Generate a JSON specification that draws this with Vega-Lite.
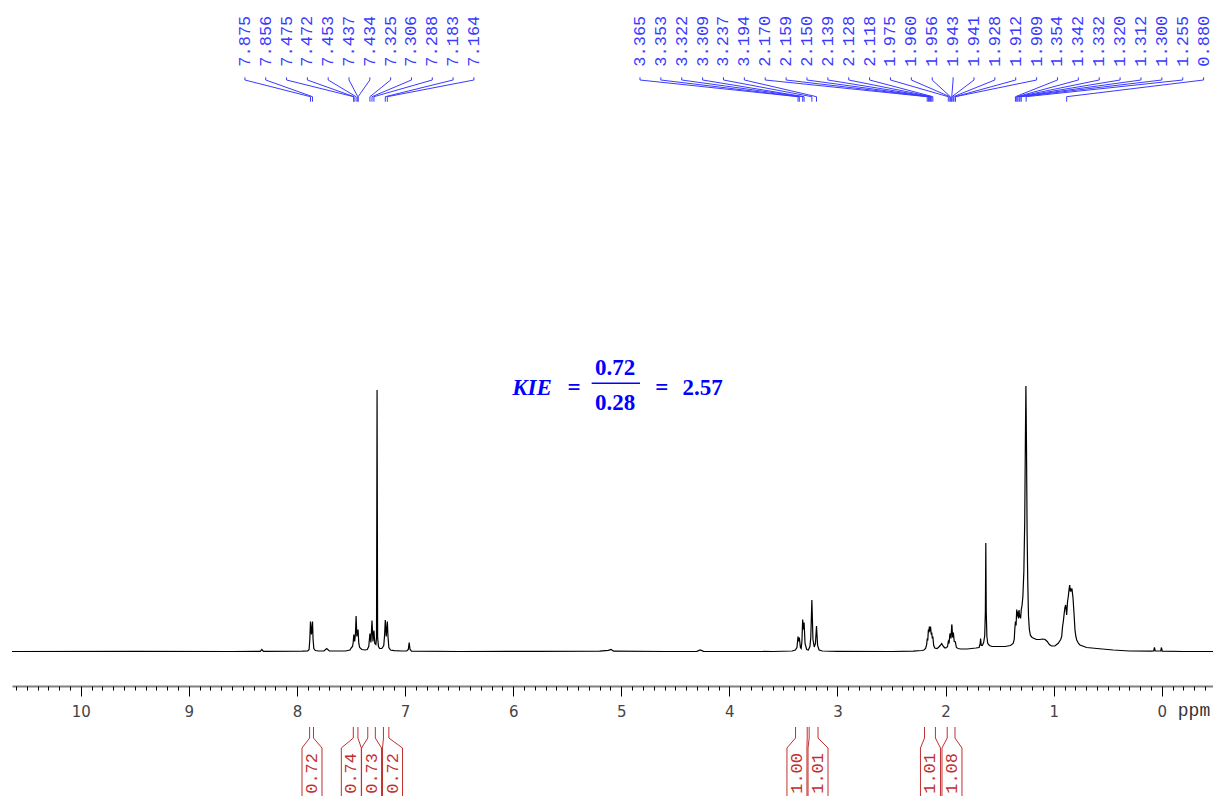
{
  "$schema": "https://vega.github.io/schema/vega-lite/v6.json",
  "width": 1201,
  "height": 686,
  "autosize": {"type": "none"},
  "padding": {"left": 12, "top": 0, "right": 0, "bottom": 110},
  "background": "white",
  "config": {"view": {"stroke": null}},
  "resolve": {"axis": {"x": "independent"}},
  "layer": [
    {
      "data": {"values": [
        {"ppm": 10.636, "i": 0}, {"ppm": 9.5, "i": 0.2}, {"ppm": 8.6, "i": 0}, {"ppm": 8.34, "i": 0.2}, {"ppm": 8.325, "i": 2}, {"ppm": 8.31, "i": 0.2},
        {"ppm": 7.95, "i": 0.3}, {"ppm": 7.9, "i": 0.5}, {"ppm": 7.888, "i": 2}, {"ppm": 7.881, "i": 12}, {"ppm": 7.875, "i": 30}, {"ppm": 7.866, "i": 17}, {"ppm": 7.856, "i": 30}, {"ppm": 7.851, "i": 12}, {"ppm": 7.844, "i": 3}, {"ppm": 7.83, "i": 1}, {"ppm": 7.8, "i": 0.5},
        {"ppm": 7.75, "i": 0.5}, {"ppm": 7.725, "i": 3}, {"ppm": 7.7, "i": 0.5},
        {"ppm": 7.55, "i": 0.5}, {"ppm": 7.51, "i": 1.5}, {"ppm": 7.495, "i": 4}, {"ppm": 7.486, "i": 5}, {"ppm": 7.48, "i": 9}, {"ppm": 7.474, "i": 17}, {"ppm": 7.466, "i": 10}, {"ppm": 7.459, "i": 18}, {"ppm": 7.453, "i": 35.5}, {"ppm": 7.446, "i": 15}, {"ppm": 7.441, "i": 18}, {"ppm": 7.435, "i": 22}, {"ppm": 7.428, "i": 8}, {"ppm": 7.42, "i": 4}, {"ppm": 7.4, "i": 2}, {"ppm": 7.37, "i": 1.5},
        {"ppm": 7.35, "i": 2}, {"ppm": 7.336, "i": 5}, {"ppm": 7.325, "i": 18}, {"ppm": 7.316, "i": 9}, {"ppm": 7.306, "i": 31}, {"ppm": 7.297, "i": 10}, {"ppm": 7.288, "i": 21}, {"ppm": 7.28, "i": 8}, {"ppm": 7.27, "i": 7}, {"ppm": 7.264, "i": 14}, {"ppm": 7.259, "i": 261.5}, {"ppm": 7.254, "i": 14}, {"ppm": 7.246, "i": 5}, {"ppm": 7.235, "i": 3},
        {"ppm": 7.215, "i": 3}, {"ppm": 7.197, "i": 6}, {"ppm": 7.189, "i": 17}, {"ppm": 7.183, "i": 31.5}, {"ppm": 7.174, "i": 15}, {"ppm": 7.164, "i": 30}, {"ppm": 7.158, "i": 15}, {"ppm": 7.15, "i": 4}, {"ppm": 7.135, "i": 1.5}, {"ppm": 7.1, "i": 0.8}, {"ppm": 7.03, "i": 0.5},
        {"ppm": 6.985, "i": 0.5}, {"ppm": 6.97, "i": 2}, {"ppm": 6.962, "i": 9}, {"ppm": 6.954, "i": 2}, {"ppm": 6.94, "i": 0.3}, {"ppm": 6.5, "i": 0}, {"ppm": 5.8, "i": 0.2}, {"ppm": 5.2, "i": 0.3}, {"ppm": 5.12, "i": 1.2}, {"ppm": 5.095, "i": 2}, {"ppm": 5.07, "i": 0.3}, {"ppm": 4.6, "i": 0}, {"ppm": 4.3, "i": 0.2}, {"ppm": 4.27, "i": 1.5}, {"ppm": 4.24, "i": 0.2}, {"ppm": 3.6, "i": 0},
        {"ppm": 3.42, "i": 0.5}, {"ppm": 3.39, "i": 1.5}, {"ppm": 3.375, "i": 4}, {"ppm": 3.365, "i": 15}, {"ppm": 3.359, "i": 10}, {"ppm": 3.353, "i": 14}, {"ppm": 3.343, "i": 4}, {"ppm": 3.336, "i": 3}, {"ppm": 3.329, "i": 10}, {"ppm": 3.322, "i": 32}, {"ppm": 3.316, "i": 22}, {"ppm": 3.309, "i": 29}, {"ppm": 3.3, "i": 8}, {"ppm": 3.285, "i": 2}, {"ppm": 3.27, "i": 1.5}, {"ppm": 3.255, "i": 5}, {"ppm": 3.247, "i": 14}, {"ppm": 3.237, "i": 51.5}, {"ppm": 3.227, "i": 12}, {"ppm": 3.215, "i": 4.5}, {"ppm": 3.204, "i": 8}, {"ppm": 3.194, "i": 25.5}, {"ppm": 3.184, "i": 6}, {"ppm": 3.17, "i": 1.5}, {"ppm": 3.14, "i": 0.5}, {"ppm": 3.0, "i": 0.2},
        {"ppm": 2.5, "i": 0}, {"ppm": 2.3, "i": 0.3}, {"ppm": 2.22, "i": 1}, {"ppm": 2.2, "i": 1.5}, {"ppm": 2.185, "i": 3}, {"ppm": 2.175, "i": 7}, {"ppm": 2.17, "i": 13}, {"ppm": 2.165, "i": 11}, {"ppm": 2.159, "i": 22}, {"ppm": 2.155, "i": 19}, {"ppm": 2.15, "i": 25}, {"ppm": 2.145, "i": 20}, {"ppm": 2.139, "i": 25}, {"ppm": 2.133, "i": 17}, {"ppm": 2.128, "i": 19}, {"ppm": 2.123, "i": 13}, {"ppm": 2.118, "i": 15}, {"ppm": 2.11, "i": 6}, {"ppm": 2.1, "i": 3.5}, {"ppm": 2.08, "i": 3}, {"ppm": 2.067, "i": 4}, {"ppm": 2.05, "i": 6}, {"ppm": 2.036, "i": 8}, {"ppm": 2.02, "i": 5}, {"ppm": 2.005, "i": 3.5},
        {"ppm": 1.99, "i": 4}, {"ppm": 1.982, "i": 5}, {"ppm": 1.975, "i": 10}, {"ppm": 1.968, "i": 8}, {"ppm": 1.96, "i": 18}, {"ppm": 1.956, "i": 17}, {"ppm": 1.95, "i": 13}, {"ppm": 1.943, "i": 27}, {"ppm": 1.941, "i": 26}, {"ppm": 1.935, "i": 14}, {"ppm": 1.928, "i": 19}, {"ppm": 1.92, "i": 10}, {"ppm": 1.912, "i": 10}, {"ppm": 1.909, "i": 9}, {"ppm": 1.9, "i": 4}, {"ppm": 1.885, "i": 3}, {"ppm": 1.86, "i": 2.5}, {"ppm": 1.8, "i": 2.5}, {"ppm": 1.72, "i": 3.5},
        {"ppm": 1.69, "i": 4}, {"ppm": 1.68, "i": 8}, {"ppm": 1.676, "i": 13}, {"ppm": 1.67, "i": 6}, {"ppm": 1.66, "i": 6}, {"ppm": 1.648, "i": 9}, {"ppm": 1.638, "i": 16}, {"ppm": 1.632, "i": 40}, {"ppm": 1.628, "i": 108.5}, {"ppm": 1.624, "i": 40}, {"ppm": 1.618, "i": 15}, {"ppm": 1.61, "i": 8}, {"ppm": 1.595, "i": 6}, {"ppm": 1.57, "i": 5}, {"ppm": 1.5, "i": 5}, {"ppm": 1.45, "i": 5}, {"ppm": 1.4, "i": 6},
        {"ppm": 1.375, "i": 8}, {"ppm": 1.365, "i": 12}, {"ppm": 1.36, "i": 22}, {"ppm": 1.354, "i": 30}, {"ppm": 1.348, "i": 26}, {"ppm": 1.342, "i": 42}, {"ppm": 1.337, "i": 35}, {"ppm": 1.332, "i": 40}, {"ppm": 1.326, "i": 33}, {"ppm": 1.32, "i": 41.5}, {"ppm": 1.316, "i": 34}, {"ppm": 1.312, "i": 37}, {"ppm": 1.306, "i": 33}, {"ppm": 1.3, "i": 42}, {"ppm": 1.293, "i": 46}, {"ppm": 1.285, "i": 55}, {"ppm": 1.276, "i": 80}, {"ppm": 1.268, "i": 130}, {"ppm": 1.262, "i": 210}, {"ppm": 1.257, "i": 265.5}, {"ppm": 1.252, "i": 210}, {"ppm": 1.246, "i": 120}, {"ppm": 1.24, "i": 70}, {"ppm": 1.233, "i": 35}, {"ppm": 1.225, "i": 22}, {"ppm": 1.215, "i": 16}, {"ppm": 1.2, "i": 14}, {"ppm": 1.18, "i": 13}, {"ppm": 1.16, "i": 12}, {"ppm": 1.13, "i": 12}, {"ppm": 1.1, "i": 12.5}, {"ppm": 1.08, "i": 12}, {"ppm": 1.06, "i": 10}, {"ppm": 1.04, "i": 7}, {"ppm": 1.02, "i": 5.5}, {"ppm": 0.99, "i": 5.5}, {"ppm": 0.96, "i": 8}, {"ppm": 0.935, "i": 12}, {"ppm": 0.926, "i": 15}, {"ppm": 0.918, "i": 25}, {"ppm": 0.911, "i": 30}, {"ppm": 0.903, "i": 38}, {"ppm": 0.896, "i": 44}, {"ppm": 0.889, "i": 46.5}, {"ppm": 0.88, "i": 36.5}, {"ppm": 0.872, "i": 50}, {"ppm": 0.865, "i": 55}, {"ppm": 0.858, "i": 62}, {"ppm": 0.852, "i": 66.5}, {"ppm": 0.846, "i": 60}, {"ppm": 0.84, "i": 62}, {"ppm": 0.835, "i": 61}, {"ppm": 0.831, "i": 63}, {"ppm": 0.826, "i": 58}, {"ppm": 0.821, "i": 53}, {"ppm": 0.812, "i": 38}, {"ppm": 0.803, "i": 21.5}, {"ppm": 0.795, "i": 15}, {"ppm": 0.787, "i": 11.5}, {"ppm": 0.77, "i": 8}, {"ppm": 0.757, "i": 6.5}, {"ppm": 0.72, "i": 5}, {"ppm": 0.695, "i": 4}, {"ppm": 0.6, "i": 3}, {"ppm": 0.45, "i": 1.5}, {"ppm": 0.3, "i": 0.5}, {"ppm": 0.1, "i": 0.3}, {"ppm": 0.075, "i": 0.5}, {"ppm": 0.068, "i": 4}, {"ppm": 0.061, "i": 0.5}, {"ppm": 0.01, "i": 0.5}, {"ppm": 0.003, "i": 4}, {"ppm": -0.004, "i": 0.3}, {"ppm": -0.2, "i": 0}, {"ppm": -0.4736, "i": 0}
      ]},
      "mark": {"type": "line", "color": "#000000", "strokeWidth": 1.2, "interpolate": "linear"},
      "encoding": {
        "x": {"field": "ppm", "type": "quantitative",
          "scale": {"domain": [-0.4736, 10.636], "reverse": true, "nice": false, "zero": false},
          "axis": {"orient": "bottom", "values": [0, 1, 2, 3, 4, 5, 6, 7, 8, 9, 10], "format": "d", "title": null, "grid": false,
            "tickSize": 10, "tickColor": "#000000", "tickWidth": 1, "domainColor": "#808080", "domainWidth": 2,
            "labelFont": "DejaVu Sans", "labelFontSize": 15, "labelColor": "#444444", "labelPadding": 8, "labelFlush": false, "labelOverlap": false}},
        "y": {"field": "i", "type": "quantitative", "scale": {"domain": [-34.5, 651.5], "nice": false, "zero": false}, "axis": null}
      }
    },
    {
      "data": {"values": [{}]},
      "mark": {"type": "text", "font": "Liberation Mono", "fontSize": 18, "color": "#333333", "align": "center", "baseline": "middle"},
      "encoding": {
        "x": {"datum": -0.298, "scale": {"domain": [-0.4736, 10.636], "reverse": true, "nice": false, "zero": false},
          "axis": {"orient": "bottom", "title": null, "grid": false, "labels": false, "domain": false, "tickSize": 4, "tickColor": "#000000", "tickWidth": 1,
            "values": [-0.4, -0.3, -0.2, -0.1, 0, 0.1, 0.2, 0.3, 0.4, 0.5, 0.6, 0.7, 0.8, 0.9, 1, 1.1, 1.2, 1.3, 1.4, 1.5, 1.6, 1.7, 1.8, 1.9, 2, 2.1, 2.2, 2.3, 2.4, 2.5, 2.6, 2.7, 2.8, 2.9, 3, 3.1, 3.2, 3.3, 3.4, 3.5, 3.6, 3.7, 3.8, 3.9, 4, 4.1, 4.2, 4.3, 4.4, 4.5, 4.6, 4.7, 4.8, 4.9, 5, 5.1, 5.2, 5.3, 5.4, 5.5, 5.6, 5.7, 5.8, 5.9, 6, 6.1, 6.2, 6.3, 6.4, 6.5, 6.6, 6.7, 6.8, 6.9, 7, 7.1, 7.2, 7.3, 7.4, 7.5, 7.6, 7.7, 7.8, 7.9, 8, 8.1, 8.2, 8.3, 8.4, 8.5, 8.6, 8.7, 8.8, 8.9, 9, 9.1, 9.2, 9.3, 9.4, 9.5, 9.6, 9.7, 9.8, 9.9, 10, 10.1, 10.2, 10.3, 10.4, 10.5, 10.6]}},
        "y": {"datum": -59.5, "scale": {"domain": [-34.5, 651.5], "nice": false, "zero": false}, "axis": null},
        "text": {"value": "ppm"}
      }
    },
    {
      "data": {"values": [
        {"grp": "A", "ppm": 7.875}, {"grp": "A", "ppm": 7.856}, {"grp": "A", "ppm": 7.475}, {"grp": "A", "ppm": 7.472}, {"grp": "A", "ppm": 7.453}, {"grp": "A", "ppm": 7.437},
        {"grp": "A", "ppm": 7.434}, {"grp": "A", "ppm": 7.325}, {"grp": "A", "ppm": 7.306}, {"grp": "A", "ppm": 7.288}, {"grp": "A", "ppm": 7.183}, {"grp": "A", "ppm": 7.164},
        {"grp": "B", "ppm": 3.365}, {"grp": "B", "ppm": 3.353}, {"grp": "B", "ppm": 3.322}, {"grp": "B", "ppm": 3.309}, {"grp": "B", "ppm": 3.237}, {"grp": "B", "ppm": 3.194},
        {"grp": "B", "ppm": 2.17}, {"grp": "B", "ppm": 2.159}, {"grp": "B", "ppm": 2.15}, {"grp": "B", "ppm": 2.139}, {"grp": "B", "ppm": 2.128}, {"grp": "B", "ppm": 2.118},
        {"grp": "B", "ppm": 1.975}, {"grp": "B", "ppm": 1.96}, {"grp": "B", "ppm": 1.956}, {"grp": "B", "ppm": 1.943}, {"grp": "B", "ppm": 1.941}, {"grp": "B", "ppm": 1.928},
        {"grp": "B", "ppm": 1.912}, {"grp": "B", "ppm": 1.909}, {"grp": "B", "ppm": 1.354}, {"grp": "B", "ppm": 1.342}, {"grp": "B", "ppm": 1.332}, {"grp": "B", "ppm": 1.32},
        {"grp": "B", "ppm": 1.312}, {"grp": "B", "ppm": 1.3}, {"grp": "B", "ppm": 1.255}, {"grp": "B", "ppm": 0.88}
      ]},
      "transform": [
        {"window": [{"op": "row_number", "as": "idx"}], "groupby": ["grp"], "sort": [{"field": "ppm", "order": "descending"}]},
        {"calculate": "datum.grp === 'A' ? 8.4815 - (datum.idx - 1) * 0.19257 : 4.827 - (datum.idx - 1) * 0.1931", "as": "lx"}
      ],
      "layer": [
        {
          "mark": {"type": "text", "angle": 270, "align": "left", "baseline": "middle", "font": "Liberation Mono", "fontSize": 17, "color": "#3a3aff"},
          "encoding": {
            "x": {"field": "lx", "type": "quantitative", "scale": {"domain": [-0.4736, 10.636], "reverse": true, "nice": false, "zero": false}, "axis": null},
            "y": {"datum": 584.8, "scale": {"domain": [-34.5, 651.5], "nice": false, "zero": false}, "axis": null},
            "text": {"field": "ppm", "type": "quantitative", "format": ".3f"}
          }
        },
        {
          "mark": {"type": "rule", "color": "#3a3aff", "strokeWidth": 1},
          "encoding": {
            "x": {"field": "lx", "type": "quantitative", "scale": {"domain": [-0.4736, 10.636], "reverse": true, "nice": false, "zero": false}, "axis": null},
            "y": {"datum": 574.2, "scale": {"domain": [-34.5, 651.5], "nice": false, "zero": false}, "axis": null},
            "y2": {"datum": 571.5}
          }
        },
        {
          "mark": {"type": "rule", "color": "#3a3aff", "strokeWidth": 1},
          "encoding": {
            "x": {"field": "lx", "type": "quantitative", "scale": {"domain": [-0.4736, 10.636], "reverse": true, "nice": false, "zero": false}, "axis": null},
            "x2": {"field": "ppm"},
            "y": {"datum": 571.5, "scale": {"domain": [-34.5, 651.5], "nice": false, "zero": false}, "axis": null},
            "y2": {"datum": 554.8}
          }
        },
        {
          "mark": {"type": "rule", "color": "#3a3aff", "strokeWidth": 1},
          "encoding": {
            "x": {"field": "ppm", "type": "quantitative", "scale": {"domain": [-0.4736, 10.636], "reverse": true, "nice": false, "zero": false}, "axis": null},
            "y": {"datum": 554.8, "scale": {"domain": [-34.5, 651.5], "nice": false, "zero": false}, "axis": null},
            "y2": {"datum": 549.8}
          }
        }
      ]
    },
    {
      "data": {"values": [
        {"v": "0.72", "from": 7.883, "to": 7.847, "c": 7.861},
        {"v": "0.74", "from": 7.479, "to": 7.436, "c": 7.497},
        {"v": "0.73", "from": 7.345, "to": 7.275, "c": 7.31},
        {"v": "0.72", "from": 7.2, "to": 7.15, "c": 7.116},
        {"v": "1.00", "from": 3.388, "to": 3.28, "c": 3.375},
        {"v": "1.01", "from": 3.262, "to": 3.18, "c": 3.18},
        {"v": "1.01", "from": 2.195, "to": 2.094, "c": 2.14},
        {"v": "1.08", "from": 1.985, "to": 1.913, "c": 1.941}
      ]},
      "transform": [
        {"calculate": "datum.c + 0.0925", "as": "bl"},
        {"calculate": "datum.c - 0.0925", "as": "br"}
      ],
      "layer": [
        {"mark": {"type": "rule", "color": "#c03030", "strokeWidth": 1},
          "encoding": {"x": {"field": "from", "type": "quantitative", "scale": {"domain": [-0.4736, 10.636], "reverse": true, "nice": false, "zero": false}, "axis": null},
            "y": {"datum": -75.5, "scale": {"domain": [-34.5, 651.5], "nice": false, "zero": false}, "axis": null}, "y2": {"datum": -86.5}}},
        {"mark": {"type": "rule", "color": "#c03030", "strokeWidth": 1},
          "encoding": {"x": {"field": "to", "type": "quantitative", "scale": {"domain": [-0.4736, 10.636], "reverse": true, "nice": false, "zero": false}, "axis": null},
            "y": {"datum": -75.5, "scale": {"domain": [-34.5, 651.5], "nice": false, "zero": false}, "axis": null}, "y2": {"datum": -86.5}}},
        {"mark": {"type": "rule", "color": "#c03030", "strokeWidth": 1},
          "encoding": {"x": {"field": "from", "type": "quantitative", "scale": {"domain": [-0.4736, 10.636], "reverse": true, "nice": false, "zero": false}, "axis": null},
            "x2": {"field": "bl"},
            "y": {"datum": -86.5, "scale": {"domain": [-34.5, 651.5], "nice": false, "zero": false}, "axis": null}, "y2": {"datum": -96.5}}},
        {"mark": {"type": "rule", "color": "#c03030", "strokeWidth": 1},
          "encoding": {"x": {"field": "to", "type": "quantitative", "scale": {"domain": [-0.4736, 10.636], "reverse": true, "nice": false, "zero": false}, "axis": null},
            "x2": {"field": "br"},
            "y": {"datum": -86.5, "scale": {"domain": [-34.5, 651.5], "nice": false, "zero": false}, "axis": null}, "y2": {"datum": -96.5}}},
        {"mark": {"type": "rule", "color": "#c03030", "strokeWidth": 1},
          "encoding": {"x": {"field": "bl", "type": "quantitative", "scale": {"domain": [-0.4736, 10.636], "reverse": true, "nice": false, "zero": false}, "axis": null},
            "y": {"datum": -96.5, "scale": {"domain": [-34.5, 651.5], "nice": false, "zero": false}, "axis": null}, "y2": {"datum": -150}}},
        {"mark": {"type": "rule", "color": "#c03030", "strokeWidth": 1},
          "encoding": {"x": {"field": "br", "type": "quantitative", "scale": {"domain": [-0.4736, 10.636], "reverse": true, "nice": false, "zero": false}, "axis": null},
            "y": {"datum": -96.5, "scale": {"domain": [-34.5, 651.5], "nice": false, "zero": false}, "axis": null}, "y2": {"datum": -150}}},
        {"mark": {"type": "text", "angle": 270, "align": "right", "baseline": "middle", "font": "Liberation Mono", "fontSize": 17, "color": "#c03030"},
          "encoding": {"x": {"field": "c", "type": "quantitative", "scale": {"domain": [-0.4736, 10.636], "reverse": true, "nice": false, "zero": false}, "axis": null},
            "y": {"datum": -101.5, "scale": {"domain": [-34.5, 651.5], "nice": false, "zero": false}, "axis": null},
            "text": {"field": "v", "type": "nominal"}}}
      ]
    },
    {
      "data": {"values": [{}]},
      "mark": {"type": "text", "font": "Liberation Serif", "fontSize": 23, "fontWeight": "bold", "fontStyle": "italic", "color": "#0000ff", "align": "center", "baseline": "middle"},
      "encoding": {"x": {"datum": 5.826, "scale": {"domain": [-0.4736, 10.636], "reverse": true, "nice": false, "zero": false}, "axis": null},
        "y": {"datum": 263.5, "scale": {"domain": [-34.5, 651.5], "nice": false, "zero": false}, "axis": null}, "text": {"value": "KIE"}}
    },
    {
      "data": {"values": [{}]},
      "mark": {"type": "text", "font": "Liberation Serif", "fontSize": 23, "fontWeight": "bold", "color": "#0000ff", "align": "center", "baseline": "middle"},
      "encoding": {"x": {"datum": 5.438, "scale": {"domain": [-0.4736, 10.636], "reverse": true, "nice": false, "zero": false}, "axis": null},
        "y": {"datum": 263.5, "scale": {"domain": [-34.5, 651.5], "nice": false, "zero": false}, "axis": null}, "text": {"value": "="}}
    },
    {
      "data": {"values": [{}]},
      "mark": {"type": "text", "font": "Liberation Serif", "fontSize": 23, "fontWeight": "bold", "color": "#0000ff", "align": "center", "baseline": "middle"},
      "encoding": {"x": {"datum": 5.058, "scale": {"domain": [-0.4736, 10.636], "reverse": true, "nice": false, "zero": false}, "axis": null},
        "y": {"datum": 283.5, "scale": {"domain": [-34.5, 651.5], "nice": false, "zero": false}, "axis": null}, "text": {"value": "0.72"}}
    },
    {
      "data": {"values": [{}]},
      "mark": {"type": "rule", "color": "#0000ff", "strokeWidth": 1.5},
      "encoding": {"x": {"datum": 5.274, "scale": {"domain": [-0.4736, 10.636], "reverse": true, "nice": false, "zero": false}, "axis": null},
        "x2": {"datum": 4.827},
        "y": {"datum": 268.2, "scale": {"domain": [-34.5, 651.5], "nice": false, "zero": false}, "axis": null}}
    },
    {
      "data": {"values": [{}]},
      "mark": {"type": "text", "font": "Liberation Serif", "fontSize": 23, "fontWeight": "bold", "color": "#0000ff", "align": "center", "baseline": "middle"},
      "encoding": {"x": {"datum": 5.058, "scale": {"domain": [-0.4736, 10.636], "reverse": true, "nice": false, "zero": false}, "axis": null},
        "y": {"datum": 248.2, "scale": {"domain": [-34.5, 651.5], "nice": false, "zero": false}, "axis": null}, "text": {"value": "0.28"}}
    },
    {
      "data": {"values": [{}]},
      "mark": {"type": "text", "font": "Liberation Serif", "fontSize": 23, "fontWeight": "bold", "color": "#0000ff", "align": "center", "baseline": "middle"},
      "encoding": {"x": {"datum": 4.626, "scale": {"domain": [-0.4736, 10.636], "reverse": true, "nice": false, "zero": false}, "axis": null},
        "y": {"datum": 263.5, "scale": {"domain": [-34.5, 651.5], "nice": false, "zero": false}, "axis": null}, "text": {"value": "="}}
    },
    {
      "data": {"values": [{}]},
      "mark": {"type": "text", "font": "Liberation Serif", "fontSize": 23, "fontWeight": "bold", "color": "#0000ff", "align": "center", "baseline": "middle"},
      "encoding": {"x": {"datum": 4.247, "scale": {"domain": [-0.4736, 10.636], "reverse": true, "nice": false, "zero": false}, "axis": null},
        "y": {"datum": 263.5, "scale": {"domain": [-34.5, 651.5], "nice": false, "zero": false}, "axis": null}, "text": {"value": "2.57"}}
    }
  ]
}
